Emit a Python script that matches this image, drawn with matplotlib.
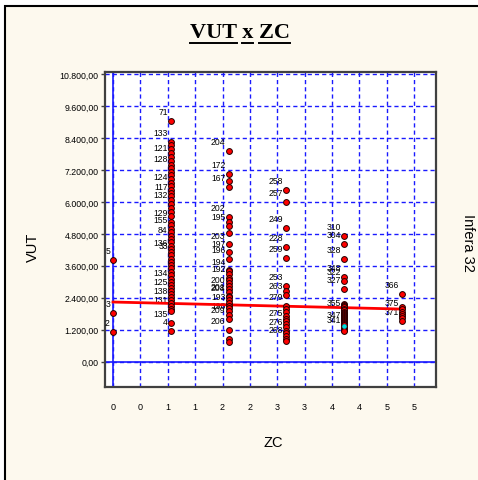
import matplotlib
matplotlib.use("Agg")
import matplotlib.pyplot as plt
from matplotlib.patches import Rectangle
from matplotlib.lines import Line2D

# ---------------- data ----------------
zc_values = [0, 1, 2, 3, 4, 5]

vut_zc0 = [3820, 1830, 1130]
ids_zc0 = ["5", "3", "2"]

vut_zc1 = [9050, 8250, 8120, 7980, 7840, 7680, 7540, 7400, 7270, 7130, 7000, 6860,
           6720, 6590, 6450, 6320, 6220, 6070, 5920, 5770, 5620, 5470, 5250, 5120,
           4990, 4860, 4730, 4600, 4480, 4360, 4240, 4120, 3990, 3870, 3750, 3620,
           3500, 3380, 3250, 3120, 2990, 2870, 2750, 2650, 2530, 2420, 2310, 2200,
           2090, 1980, 1900, 1450, 1140]
ids_zc1 = ["71", "133", "", "", "", "121", "", "", "128", "", "", "",
           "", "124", "", "", "117", "", "132", "", "", "", "129", "",
           "155", "", "", "84", "", "", "", "136", "33", "", "", "",
           "", "", "", "", "134", "", "", "125", "", "", "138", "",
           "", "131", "", "135", "4"]

vut_zc2 = [7920, 7040, 6800, 6550, 5420, 5250, 5100, 4820, 4400, 4100, 3860,
           3440, 3390, 3300, 3160, 3050, 2950, 2850, 2720, 2600, 2480, 2440,
           2330, 2200, 2090, 2000, 1900, 1770, 1600, 1190, 850, 730]
ids_zc2 = ["204", "172", "", "167", "202", "", "195", "", "203", "197", "196",
           "", "194", "", "192", "", "", "", "200", "", "201", "208",
           "", "", "193", "", "", "198", "209", "206", "", ""]

vut_zc3 = [6455, 6005, 5020, 4316, 3890, 2850, 2665, 2500,
           2100, 1970, 1850, 1730, 1620, 1510, 1400, 1300, 1170, 1070, 960, 850, 790]
ids_zc3 = ["258", "257", "249", "228", "259", "253", "", "263",
           "279", "", "", "", "", "275", "", "", "276", "", "", "268", ""]

vut_zc4 = [4730, 4420, 3840, 3180, 3040, 2730,
           2165, 2120, 2080, 2040, 1980, 1930, 1880, 1840, 1800, 1760, 1715,
           1680, 1640, 1600, 1560, 1520, 1480, 1440, 1400, 1360, 1320, 1280,
           1240, 1200, 1165]
ids_zc4 = ["310", "304", "328", "348", "322", "327",
           "", "", "", "", "", "", "355", "", "", "", "",
           "", "", "", "", "", "", "", "347", "", "", "",
           "341", "", ""]

vut_zc5 = [2540, 2050, 1960, 1880, 1800, 1715, 1630, 1540]
ids_zc5 = ["366", "", "", "375", "", "", "", "371"]

highlight_zc = [4]
highlight_vut = [1340]

trend_zc = [0, 5]
trend_vut = [2240, 1975]

ytick_values = [0, 1200, 2400, 3600, 4800, 6000, 7200, 8400, 9600, 10800]
ytick_labels = ["0,00", "1.200,00", "2.400,00", "3.600,00", "4.800,00", "6.000,00",
                "7.200,00", "8.400,00", "9.600,00", "10.800,00"]
xtick_values = [0.0, 0.4737, 0.9474, 1.4211, 1.8947, 2.3684, 2.8421, 3.3158,
                3.7895, 4.2632, 4.7368, 5.2105]
xtick_labels = ["0", "0", "1", "1", "2", "2", "3", "3", "4", "4", "5", "5"]

title_words = ["VUT", "x", "ZC"]

# ---------------- figure ----------------
W, H = 478, 481
fig = plt.figure(figsize=(W / 100, H / 100), dpi=100, facecolor="white")

# cream panel with black border (top/left visible)
panel = Rectangle((5 / W, -0.05), 1.2, 1 - 7 / H + 0.05, transform=fig.transFigure,
                  facecolor="#FDF9EE", edgecolor="black", linewidth=1.5, zorder=0)
fig.add_artist(panel)

ax = fig.add_axes([105 / W, 1 - 388 / H, (436 - 105) / W, (388 - 73) / H])
ax.set_facecolor("white")
ax.set_xlim(-0.138, 5.588)
ax.set_ylim(-950, 10875)

for s in ax.spines.values():
    s.set_color("#404040")
    s.set_linewidth(1.6)

ax.set_yticks(ytick_values)
ax.set_yticklabels(ytick_labels)
ax.set_xticks(xtick_values)
ax.set_xticklabels(xtick_labels)
ax.tick_params(axis="y", length=3, width=1, color="#404040", pad=1.5,
               labelsize=6.3, labelfontfamily="Liberation Sans")
ax.tick_params(axis="x", length=0, pad=11, labelsize=6.5,
               labelfontfamily="Liberation Sans")

ax.grid(True, color="#1a1aff", linestyle=(0, (3, 2.2)), linewidth=1.0, zorder=1)
ax.set_axisbelow(True)
ax.axvline(0, color="#1a1aff", linewidth=1.2, zorder=1.5)
ax.axhline(0, color="#1a1aff", linewidth=1.2, zorder=1.5)

columns = [(vut_zc0, ids_zc0), (vut_zc1, ids_zc1), (vut_zc2, ids_zc2),
           (vut_zc3, ids_zc3), (vut_zc4, ids_zc4), (vut_zc5, ids_zc5)]

for zc, (vals, ids) in zip(zc_values, columns):
    ax.plot([zc] * len(vals), vals, linestyle="none", marker="o", markersize=4.2,
            markerfacecolor="#FF0000", markeredgecolor="#200000",
            markeredgewidth=0.7, zorder=4, clip_on=False)
    for v, lab in zip(vals, ids):
        if lab:
            ax.annotate(lab, (zc, v), xytext=(-2.2, 6.8), textcoords="offset points",
                        ha="right", va="center", fontsize=6.2,
                        family="Liberation Sans", color="black", zorder=3,
                        annotation_clip=False)

ax.plot(highlight_zc, highlight_vut, linestyle="none", marker="o", markersize=2.3,
        markerfacecolor="#00E0E0", markeredgecolor="#00E0E0", zorder=5)

ax.plot(trend_zc, trend_vut, color="#FF0000", linewidth=2, zorder=3.5)

# axis labels
fig.text(33 / W, 1 - 247 / H, "VUT", rotation=90, ha="center", va="center",
         fontsize=10.5, family="Liberation Sans")
fig.text(273 / W, 1 - 443 / H, "ZC", ha="center", va="center",
         fontsize=10.5, family="Liberation Sans")
fig.text(468 / W, 1 - 243 / H, "Infera 32", rotation=270, ha="center", va="center",
         fontsize=10.5, family="Liberation Sans")

# title with underlined words
title_text = " ".join(title_words)
ty = 1 - 33 / H
t = fig.text(240 / W, ty, title_text, ha="center", va="center", fontsize=16,
             fontweight="bold", family="Liberation Serif")
fig.canvas.draw()
renderer = fig.canvas.get_renderer()
bb = t.get_window_extent(renderer)
x_start = bb.x0
underline_y = (H - 43.5) / H
prefix = ""
for i, w in enumerate(title_words):
    tmp1 = fig.text(0, 0, prefix if prefix else ".", fontsize=16, fontweight="bold",
                    family="Liberation Serif")
    tmp2 = fig.text(0, 0, prefix + w, fontsize=16, fontweight="bold",
                    family="Liberation Serif")
    w1 = tmp1.get_window_extent(renderer).width if prefix else 0
    w2 = tmp2.get_window_extent(renderer).width
    tmp1.remove()
    tmp2.remove()
    x0 = x_start + w1
    x1 = x_start + w2
    fig.add_artist(Line2D([x0 / W, x1 / W], [underline_y, underline_y],
                          transform=fig.transFigure, color="black", linewidth=1.4))
    prefix = prefix + w + " "

fig.savefig("out.png", dpi=100, facecolor=fig.get_facecolor())
